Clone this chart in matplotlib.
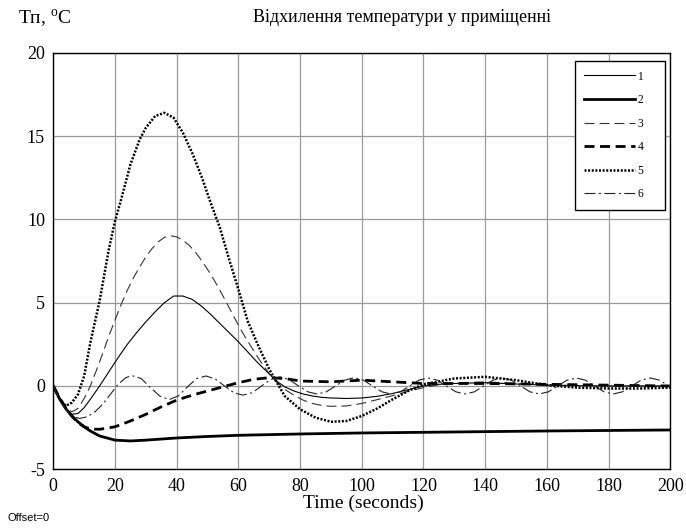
import matplotlib
matplotlib.use("Agg")
import matplotlib.pyplot as plt

plt.rcParams["font.family"] = ["Liberation Serif", "DejaVu Serif"]
plt.rcParams["mathtext.fontset"] = "custom"
plt.rcParams["mathtext.rm"] = "Liberation Serif"
plt.rcParams["axes.unicode_minus"] = False

# values (time in s, deviation in deg C)
t1 = [0, 2, 4, 6, 8, 10, 12, 13.5, 15, 18, 21, 24, 27, 30, 33, 36, 39, 42, 45, 48,
      51, 54, 57, 60, 63, 66, 69, 72, 75, 78, 81, 84, 87, 90, 95, 100, 105, 110, 115, 120,
      125, 130, 140, 150, 160, 180, 200]
v1 = [0, -0.8, -1.4, -1.7, -1.65, -1.3, -0.8, -0.4, 0.0, 0.85, 1.7, 2.5, 3.2, 3.85, 4.45, 5.0, 5.4, 5.4, 5.2, 4.8,
      4.3, 3.75, 3.2, 2.65, 2.05, 1.45, 0.9, 0.35, -0.05, -0.3, -0.48, -0.6, -0.68, -0.72, -0.75, -0.72, -0.62, -0.45, -0.22, 0.0,
      0.1, 0.15, 0.2, 0.12, 0.05, 0.0, 0.0]

t2 = [0, 2, 4, 6, 8, 10, 12, 15, 20, 25, 30, 40, 50, 60, 80, 100, 120, 140, 160, 180, 200]
v2 = [0, -0.75, -1.35, -1.8, -2.15, -2.45, -2.7, -3.0, -3.25, -3.3, -3.25, -3.12, -3.03, -2.96,
      -2.88, -2.82, -2.78, -2.74, -2.7, -2.67, -2.64]

t3 = [0, 2, 4, 6, 8, 10, 12, 14, 16, 18, 20, 22, 24, 26, 28, 30, 32, 34, 36, 38,
      40, 42, 44, 46, 48, 50, 52, 54, 56, 58, 60, 62, 64, 66, 68, 70, 72, 75, 78, 81,
      84, 87, 90, 95, 100, 105, 110, 115, 120, 125, 130, 140, 150, 160, 180, 200]
v3 = [0, -0.7, -1.3, -1.55, -1.35, -0.75, 0.0, 0.95, 1.95, 3.0, 3.95, 4.9, 5.75, 6.5, 7.15, 7.75, 8.25, 8.65, 8.92, 9.02,
      8.95, 8.75, 8.45, 8.05, 7.55, 7.0, 6.4, 5.75, 5.05, 4.35, 3.65, 3.0, 2.4, 1.8, 1.25, 0.75, 0.3, -0.2, -0.55, -0.85,
      -1.05, -1.17, -1.22, -1.2, -1.05, -0.82, -0.58, -0.32, -0.1, 0.08, 0.18, 0.25, 0.15, 0.05, 0.0, 0.0]

t4 = [0, 2, 4, 6, 8, 10, 12, 15, 20, 25, 30, 35, 40, 45, 50, 55, 60, 65, 70, 75,
      80, 90, 100, 110, 120, 140, 160, 180, 200]
v4 = [0, -0.7, -1.3, -1.8, -2.2, -2.45, -2.58, -2.6, -2.45, -2.1, -1.7, -1.25, -0.85, -0.55, -0.3, -0.05, 0.2, 0.4, 0.5, 0.45,
      0.3, 0.25, 0.35, 0.25, 0.15, 0.15, 0.1, 0.05, 0.0]

t5 = [0, 2, 4, 6, 8, 10, 12, 15, 18, 20, 22, 25, 28, 30, 33, 36, 39, 42, 45, 48,
      51, 54, 57, 60, 63, 66, 70, 75, 80, 85, 90, 95, 100, 105, 110, 115, 120, 130, 140, 150,
      160, 170, 180, 190, 200]
v5 = [0, -0.8, -1.2, -1.0, -0.5, 0.6, 2.6, 5.1, 8.2, 9.9, 11.2, 13.3, 14.8, 15.5, 16.2, 16.4, 16.1, 15.2, 14.0, 12.6,
      11.0, 9.5, 7.6, 5.8, 3.9, 2.6, 1.0, -0.6, -1.4, -1.9, -2.15, -2.1, -1.8, -1.35, -0.8, -0.3, 0.1, 0.45, 0.55, 0.35,
      0.05, -0.1, -0.15, -0.15, -0.1]

t6 = [0, 2, 4, 6, 8.5, 11, 13.5, 16, 18.5, 21, 23.5, 25.5, 28.5, 31.5, 34.5, 37.5, 40.5, 43.5, 46.5, 49.5,
      52.5, 55.5, 58.5, 61.5, 64.5, 67.5, 70.5, 73.5, 76.5, 79.5, 82.5, 85.5, 88.5, 91.5, 94.5, 97.5,
      100.5, 103.5, 106.5, 109.5, 112.5, 115.5, 118.5, 121.5, 124.5, 127.5, 130.5, 133.5, 136.5, 139.5,
      142.5, 145.5, 148.5, 151.5, 154.5, 157.5, 160.5, 163.5, 166.5, 169.5, 172.5, 175.5, 178.5, 181.5,
      184.5, 187.5, 190.5, 193.5, 196.5, 200]
v6 = [0, -0.8, -1.4, -1.8, -1.95, -1.85, -1.55, -1.1, -0.5, 0.1, 0.5, 0.62, 0.45, -0.1, -0.6, -0.82, -0.6, -0.05, 0.45, 0.6,
      0.42, 0.0, -0.4, -0.55, -0.4, 0.0, 0.4, 0.55, 0.38, 0.0, -0.35, -0.48, -0.35, 0.0, 0.35, 0.5,
      0.35, 0.0, -0.35, -0.48, -0.35, 0.0, 0.35, 0.48, 0.35, 0.0, -0.35, -0.48, -0.35, 0.0,
      0.35, 0.48, 0.35, 0.0, -0.35, -0.48, -0.35, 0.0, 0.35, 0.48, 0.35, 0.0, -0.35, -0.48,
      -0.35, 0.0, 0.35, 0.48, 0.35, -0.05]

labels = ["1", "2", "3", "4", "5", "6"]

fig = plt.figure(figsize=(6.86, 5.28), dpi=100)
ax = fig.add_axes([0.0777, 0.1112, 0.8994, 0.7888])

ax.plot(t1, v1, color="black", lw=0.8, ls="-", label=labels[0])
ax.plot(t2, v2, color="black", lw=2.0, ls="-", label=labels[1])
ax.plot(t3, v3, color="#333333", lw=0.8, ls=(0, (9, 4.5)), label=labels[2])
ax.plot(t4, v4, color="black", lw=2.0, ls=(0, (3.6, 2.0)), label=labels[3])
ax.plot(t5, v5, color="black", lw=1.8, ls=(0, (0.8, 0.65)), label=labels[4])
ax.plot(t6, v6, color="#222222", lw=0.8, ls=(0, (9.9, 3.1, 1.8, 3.1)), label=labels[5])

ax.set_xlim(0, 200)
ax.set_ylim(-5, 20)
ax.set_xticks(range(0, 201, 20))
ax.set_yticks(range(-5, 21, 5))
ax.grid(True, color="#9a9a9a", lw=0.9)
ax.tick_params(labelsize=13, length=0, pad=6)
for s in ax.spines.values():
    s.set_linewidth(1.0)

handles = ax.get_lines()
leg = ax.legend(handles, [l + "    " for l in labels], loc="upper right",
                bbox_to_anchor=(0.992, 0.981), borderaxespad=0,
                fancybox=False, edgecolor="black", framealpha=1, fontsize=8.3,
                handlelength=4.4, handletextpad=0.27, labelspacing=1.0,
                borderpad=0.85)
leg.get_frame().set_linewidth(1.0)

fig.text(402 / 686, 1 - 18 / 528, "Відхилення температури у приміщенні",
         ha="center", va="center", fontsize=13)
fig.text(18 / 686, 1 - 19 / 528, r"Tп, $^{\rm o}$C", ha="left", va="center", fontsize=14)
fig.text(363 / 686, 1 - 503 / 528, "Time (seconds)", ha="center", va="center", fontsize=14)
fig.text(8 / 686, 1 - 518 / 528, "Offset=0", ha="left", va="center", fontsize=8,
         family=["Liberation Sans", "DejaVu Sans"])

fig.savefig("out.png", dpi=100)
